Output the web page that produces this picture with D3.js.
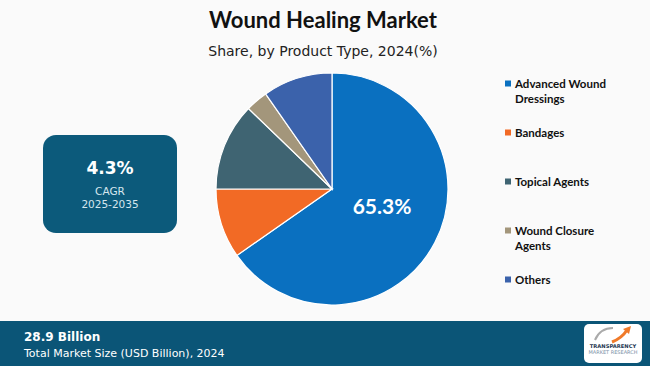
<!DOCTYPE html>
<html lang="en">
<head>
  <meta charset="UTF-8">
  <title>Wound Healing Market</title>
  <script src="https://d3js.org/d3.v7.min.js"></script>
  <style>
    body { margin: 0; background: #fafafa; overflow: hidden; }
    svg { display: block; }
  </style>
</head>
<body>
  <svg id="chart" width="650" height="366"></svg>
  <script>
    // data
    const categories = ["Advanced Wound Dressings", "Bandages", "Topical Agents", "Wound Closure Agents", "Others"];
    const shares = [65.3, 9.7, 12.2, 3.1, 9.7];
    const colors = ["#0a70c0", "#f26a25", "#3f6472", "#a3967b", "#3b62ab"];
    const legendLines = [["Advanced Wound", "Dressings"], ["Bandages"], ["Topical Agents"], ["Wound Closure", "Agents"], ["Others"]];

    const svg = d3.select("#chart");
    const W = 650, H = 366;

    svg.append("rect").attr("width", W).attr("height", H).attr("fill", "#fafafa");

    // title
    svg.append("text")
      .attr("x", 323).attr("y", 28)
      .attr("text-anchor", "middle")
      .attr("font-family", "Lato, 'Open Sans', sans-serif")
      .attr("font-weight", "bold").attr("font-size", 22)
      .attr("fill", "#111")
      .text("Wound Healing Market");
    svg.append("text")
      .attr("x", 323).attr("y", 56)
      .attr("text-anchor", "middle")
      .attr("font-family", "'DejaVu Sans', sans-serif")
      .attr("font-size", 14)
      .attr("fill", "#222")
      .text("Share, by Product Type, 2024(%)");

    // pie
    const cx = 332, cy = 189, r = 116;
    const pie = d3.pie().sort(null).value(d => d)(shares);
    const arc = d3.arc().innerRadius(0).outerRadius(r);
    const g = svg.append("g").attr("transform", `translate(${cx},${cy})`);
    g.selectAll("path").data(pie).join("path")
      .attr("d", arc)
      .attr("fill", (d, i) => colors[i])
      .attr("stroke", "#fff")
      .attr("stroke-width", 1.2);

    // label on the biggest slice
    g.append("text")
      .attr("x", 50).attr("y", 25)
      .attr("text-anchor", "middle")
      .attr("font-family", "Lato, 'Open Sans', sans-serif")
      .attr("font-weight", "bold").attr("font-size", 21)
      .attr("fill", "#fff")
      .text(pie[0].data.toFixed(1) + "%");

    // legend
    const legendY = d3.scalePoint().domain(categories).range([84, 280]);
    const lg = svg.append("g");
    categories.forEach((c, i) => {
      const y = legendY(c);
      lg.append("rect")
        .attr("x", 505).attr("y", y - 3.5)
        .attr("width", 6).attr("height", 6)
        .attr("fill", colors[i]);
      const t = lg.append("text")
        .attr("x", 515).attr("y", y + 4)
        .attr("font-family", "Lato, 'Open Sans', sans-serif")
        .attr("font-weight", "bold").attr("font-size", 11.5)
        .attr("fill", "#111");
      legendLines[i].forEach((line, j) => {
        t.append("tspan").attr("x", 515).attr("dy", j === 0 ? 0 : 15).text(line);
      });
    });

    // CAGR box
    svg.append("rect")
      .attr("x", 43).attr("y", 135)
      .attr("width", 134).attr("height", 98)
      .attr("rx", 13)
      .attr("fill", "#0c5a7b");
    svg.append("text")
      .attr("x", 110).attr("y", 174)
      .attr("text-anchor", "middle")
      .attr("font-family", "'DejaVu Sans', sans-serif")
      .attr("font-weight", "bold").attr("font-size", 17)
      .attr("fill", "#fff")
      .text("4.3%");
    svg.append("text")
      .attr("x", 110).attr("y", 195)
      .attr("text-anchor", "middle")
      .attr("font-family", "'DejaVu Sans', sans-serif")
      .attr("font-size", 10.5)
      .attr("fill", "#d5e6ee")
      .text("CAGR");
    svg.append("text")
      .attr("x", 110).attr("y", 208)
      .attr("text-anchor", "middle")
      .attr("font-family", "'DejaVu Sans', sans-serif")
      .attr("font-size", 10.5)
      .attr("fill", "#d5e6ee")
      .text("2025-2035");

    // bottom bar
    svg.append("rect")
      .attr("x", 0).attr("y", 321)
      .attr("width", W).attr("height", H - 321)
      .attr("fill", "#0b5577");
    svg.append("text")
      .attr("x", 24).attr("y", 341)
      .attr("font-family", "'DejaVu Sans', sans-serif")
      .attr("font-weight", "bold").attr("font-size", 12)
      .attr("fill", "#fff")
      .text("28.9 Billion");
    svg.append("text")
      .attr("x", 24).attr("y", 357)
      .attr("font-family", "'DejaVu Sans', sans-serif")
      .attr("font-size", 11)
      .attr("fill", "#fff")
      .text("Total Market Size (USD Billion), 2024");

    // logo
    const logo = svg.append("g");
    logo.append("rect")
      .attr("x", 584).attr("y", 324)
      .attr("width", 58).attr("height", 39)
      .attr("rx", 5)
      .attr("fill", "#fff");
    logo.append("path")
      .attr("d", "M595,340 Q600,328 613,328")
      .attr("fill", "none").attr("stroke", "#aaa").attr("stroke-width", 2);
    logo.append("path")
      .attr("d", "M612,342 Q622,338 627,330")
      .attr("fill", "none").attr("stroke", "#f07a2a").attr("stroke-width", 3);
    logo.append("path")
      .attr("d", "M623,329 L631,326 L629,334 Z")
      .attr("fill", "#f07a2a");
    logo.append("text")
      .attr("x", 613).attr("y", 348)
      .attr("text-anchor", "middle")
      .attr("font-family", "'DejaVu Sans', sans-serif")
      .attr("font-weight", "bold").attr("font-size", 5.2)
      .attr("fill", "#1c3550")
      .text("TRANSPARENCY");
    logo.append("text")
      .attr("x", 613).attr("y", 354)
      .attr("text-anchor", "middle")
      .attr("font-family", "'DejaVu Sans', sans-serif")
      .attr("font-size", 5)
      .attr("fill", "#7a8fa6")
      .text("MARKET RESEARCH");
  </script>
</body>
</html>
